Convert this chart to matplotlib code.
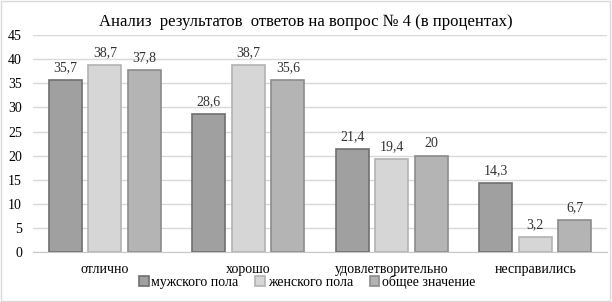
import matplotlib.pyplot as plt
import numpy as np

# data
categories = ["отлично", "хорошо", "удовлетворительно", "несправились"]
series_names = ["мужского пола", "женского пола", "общее значение"]
male = [35.7, 28.6, 21.4, 14.3]
female = [38.7, 38.7, 19.4, 3.2]
total = [37.8, 35.6, 20, 6.7]

plt.rcParams['font.family'] = ['Liberation Serif', 'DejaVu Serif']

fig = plt.figure(figsize=(6.12, 3.02), dpi=100)
ax = fig.add_axes([0.054, 0.165, 0.938, 0.719])

x = np.arange(len(categories))
width = 0.23
offset = 0.275
faces = ["#a0a0a0", "#d6d6d6", "#b4b4b4"]
edges = ["#6f6f6f", "#b3b3b3", "#8c8c8c"]

def fmt(v):
    s = ("%g" % v).replace(".", ",")
    return s

for i, vals in enumerate([male, female, total]):
    bars = ax.bar(x + (i - 1) * offset, vals, width, color=faces[i],
                  edgecolor=edges[i], linewidth=1.2, label=series_names[i], zorder=3)
    for b, v in zip(bars, vals):
        ax.text(b.get_x() + b.get_width() / 2, v + 1.2, fmt(v),
                ha="center", va="bottom", fontsize=10, color="#333333")

ax.set_xlim(-0.5, 3.5)
ax.set_ylim(0, 45)
ax.set_yticks(range(0, 46, 5))
ax.set_xticks(x)
ax.set_xticklabels(categories, fontsize=10)
ax.tick_params(axis="y", labelsize=10, length=0, pad=8)
ax.tick_params(axis="x", length=0, pad=8)
ax.grid(axis="y", color="#d9d9d9", linewidth=1, zorder=0)
for s in ["top", "right", "left"]:
    ax.spines[s].set_visible(False)
ax.spines["bottom"].set_color("#c8c8c8")

fig.text(0.5, 0.928, "Анализ  результатов  ответов на вопрос № 4 (в процентах)",
         ha="center", va="center", fontsize=12)

fig.legend(loc="center", bbox_to_anchor=(0.502, 0.066), ncol=3, frameon=False,
           fontsize=10, handlelength=0.7, handleheight=0.7, handletextpad=0.2,
           columnspacing=1.2, borderpad=0, borderaxespad=0)

border = plt.Rectangle((0.002, 0.003), 0.995, 0.994, transform=fig.transFigure,
                       fill=False, edgecolor="#d9d9d9", linewidth=1)
fig.patches.append(border)

fig.savefig("out.png", dpi=100)
